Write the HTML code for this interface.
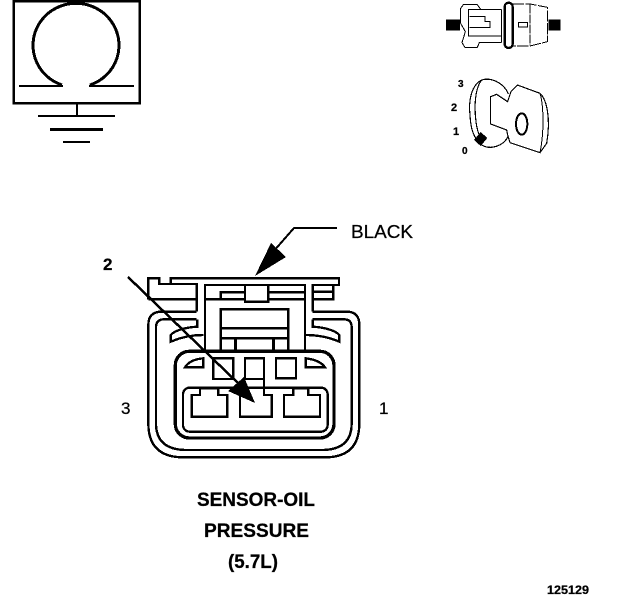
<!DOCTYPE html>
<html>
<head>
<meta charset="utf-8">
<style>
html,body{margin:0;padding:0;background:#fff}
svg{display:block}
text{font-family:"Liberation Sans",sans-serif;fill:#000;stroke:#000;stroke-width:.25px}
.b{font-weight:bold}
path,rect,ellipse,polygon{shape-rendering:crispEdges}
</style>
</head>
<body>
<svg width="624" height="600" viewBox="0 0 624 600" xmlns="http://www.w3.org/2000/svg">
<!-- Symbol -->
<g fill="none" stroke="#000">
<rect x="13.500" y="1" width="126" height="102" stroke-width="2.500"/>
<path d="M62,85 A43,42 0 1 1 90,85" stroke-width="3"/>
<path d="M19,86 H63 M89,86 H134" stroke-width="2"/>
<path d="M77,104 V116" stroke-width="2"/>
<path d="M38,116 H115" stroke-width="2"/>
<path d="M50,129.500 H103" stroke-width="3"/>
<path d="M63,142 H90" stroke-width="2"/>
</g>

<!-- Top right connector icon -->
<g transform="translate(440,0) scale(.33333)" fill="none" stroke="#000">
<rect x="18" y="58" width="42" height="34" fill="#000" stroke="none"/>
<rect x="325" y="58" width="37" height="34" fill="#000" stroke="none"/>
<path d="M112,14 H70 L62,25 V70 L76,95 L66,128 L75,142 H112 L118,128 H185" stroke-width="3"/>
<path d="M112,14 L122,28 H185" stroke-width="3"/>
<path d="M185,28 V128" stroke-width="3"/>
<path d="M185,28 H86 V108 H185" stroke-width="3"/>
<path d="M88,50 H135 V65 H150 V82 H88" stroke-width="3"/>
<rect x="194" y="8" width="24" height="136" rx="12" stroke-width="7"/>
<path d="M218,12 H270 L322,22 V125 L270,138 H218" stroke-width="3" stroke-dasharray="34 4"/>
<path d="M270,14 V136" stroke-width="3" stroke-dasharray="26 4"/>
<rect x="235" y="68" width="27" height="13" stroke-width="3"/>
</g>

<!-- Key icon -->
<g transform="translate(440,0) scale(.33333)" fill="none" stroke="#000">
<path d="M205,282 C190,245 150,232 125,240 C95,255 85,300 90,345 C92,385 100,415 125,435 C150,450 190,440 205,408" stroke-width="3.500"/>
<path d="M125,240 C105,265 102,320 108,365 C112,395 118,410 130,425" stroke-width="3.500"/>
<path d="M152,290 L170,283 L203,305 L213,275 L232,255 L300,280 C322,300 332,360 320,430 L300,458 L210,428 L203,405 L200,390 L152,372 Z" fill="#fff" stroke-width="3.500"/>
<path d="M300,280 C312,320 312,400 300,458" stroke-width="3"/>
<ellipse cx="245" cy="372" rx="17" ry="32" stroke-width="6"/>
<polygon points="122,396 142,414 122,438 102,420" fill="#000" stroke="none"/>
</g>
<text x="458" y="87" class="b" font-size="10">3</text>
<text x="451" y="111" class="b" font-size="11">2</text>
<text x="453" y="135" class="b" font-size="11">1</text>
<text x="462" y="154" class="b" font-size="10">0</text>

<!-- Main connector -->
<g transform="translate(140,270) scale(.33333)" fill="none" stroke="#000">
<g stroke-width="7">
<path d="M170,125 H65 Q25,125 25,165 V460 Q25,562 130,562 H555 Q658,562 658,460 V165 Q658,125 620,125 H518"/>
<path d="M170,148 H72 Q48,148 48,172 V460 Q48,540 140,540 H545 Q635,540 635,460 V172 Q635,148 612,148 H518"/>
<path d="M25,88 V25 H58 V42 H92 V25 H597 V45 H518 V125"/>
<path d="M92,42 H170 V125 M25,88 H170"/>
<path d="M195,240 V45 H495 V240 M195,88 H315 M385,88 H495"/>
<path d="M518,65 H580 V45 M518,88 H580 V65"/>
<path d="M242,88 V67 H315 M385,67 H495"/>
<rect x="315" y="45" width="70" height="50"/>
<path d="M242,240 V118 H445 V240 M242,175 H445 M242,205 H445"/>
<path d="M172,148 V170 C140,172 105,180 92,195 V215 C115,205 145,195 190,195"/>
<path d="M518,148 V170 C550,172 585,180 598,195 V215 C575,205 545,195 495,195"/>
</g>
<path d="M287,205 V240 M400,205 V240" stroke-width="9"/>
<rect x="106" y="244" width="476" height="260" rx="42" stroke-width="10"/>
<rect x="129" y="353" width="434" height="132" rx="20" stroke-width="7"/>
<g stroke-width="7">
<path d="M135,292 Q150,268 190,265 V292 Z"/>
<path d="M497,265 Q540,270 555,292 H497 Z"/>
<rect x="220" y="265" width="60" height="62"/>
<path d="M315,327 V265 H372 V375 H395 V440 H300 V375 H325"/>
<path d="M315,327 H372"/>
<rect x="408" y="265" width="60" height="60"/>
<path d="M155,375 H180 V355 H235 V375 H262 V440 H155 Z"/>
<path d="M432,375 H460 V355 H505 V375 H540 V440 H432 Z"/>
</g>
</g>

<!-- Arrow from 2 -->
<path d="M128,277 L240,385" stroke="#000" stroke-width="2.500" fill="none"/>
<polygon points="255,403 228,391 244,377" fill="#000"/>

<!-- Black arrow -->
<path d="M337,228 H294 L273,252" stroke="#000" stroke-width="2" fill="none"/>
<polygon points="255,276 271,243 286,257" fill="#000"/>

<!-- Labels -->
<text x="351" y="238" font-size="18" textLength="62" lengthAdjust="spacingAndGlyphs">BLACK</text>
<text x="103" y="270" class="b" font-size="17">2</text>
<text x="121" y="414" font-size="17">3</text>
<text x="379" y="414" font-size="17">1</text>
<text x="197" y="506" class="b" font-size="19" textLength="118" lengthAdjust="spacingAndGlyphs">SENSOR-OIL</text>
<text x="204" y="537" class="b" font-size="19" textLength="105" lengthAdjust="spacingAndGlyphs">PRESSURE</text>
<text x="228" y="568" class="b" font-size="19" textLength="50" lengthAdjust="spacingAndGlyphs">(5.7L)</text>
<text x="547" y="594" class="b" font-size="12" textLength="42" lengthAdjust="spacingAndGlyphs">125129</text>
</svg>
</body>
</html>
